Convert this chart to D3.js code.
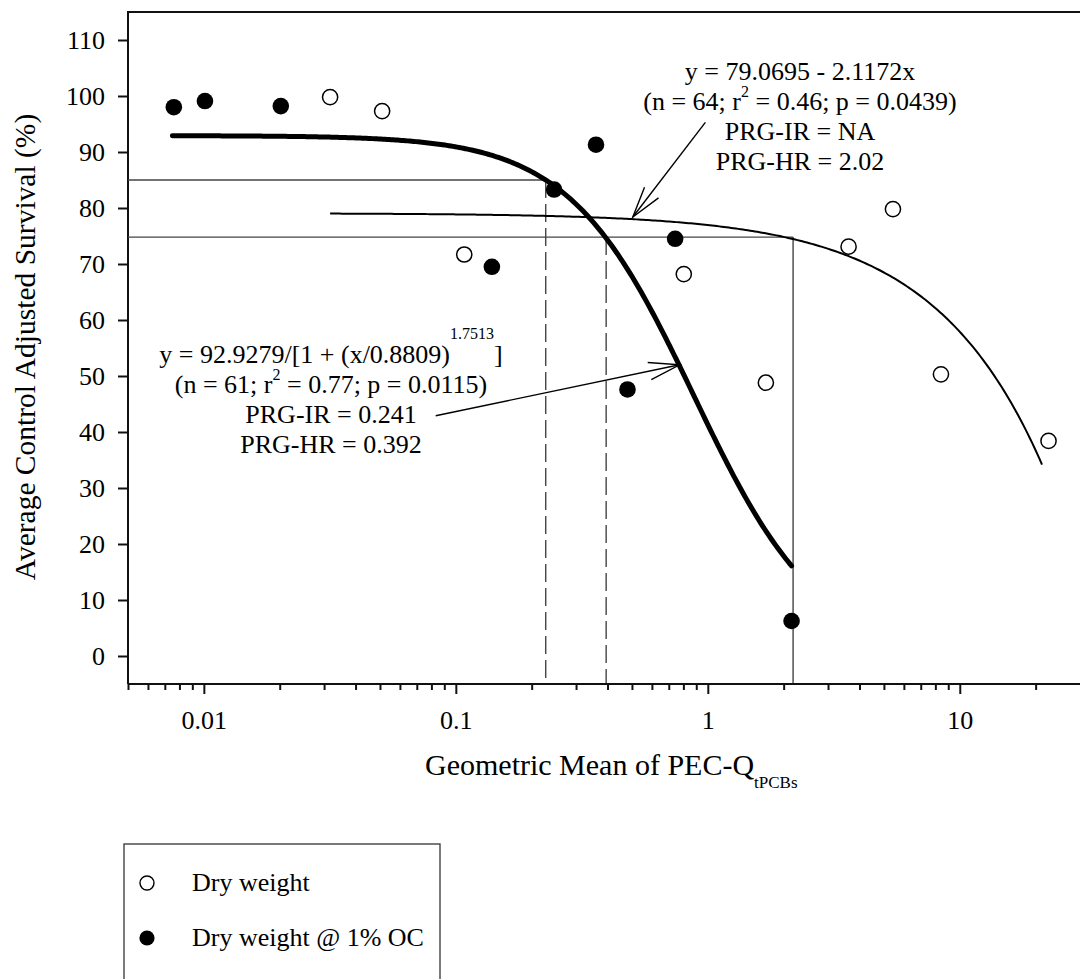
<!DOCTYPE html>
<html><head><meta charset="utf-8">
<script src="https://cdn.jsdelivr.net/npm/d3@7"></script>
<style>
body{margin:0;background:#fff}
svg text{font-family:"Liberation Serif",serif;fill:#000}
</style>
</head><body>
<svg id="c" width="1081" height="979"></svg>
<script>
// ---- data ----
const dryX = [0.0317, 0.0510, 0.108, 0.803, 1.70, 3.62, 5.43, 8.42, 22.5];
const dryY = [99.8, 97.3, 71.7, 68.2, 48.8, 73.1, 79.8, 50.3, 38.4];
const ocX  = [0.0076, 0.0101, 0.0202, 0.139, 0.2455, 0.360, 0.480, 0.742, 2.15];
const ocY  = [98.0, 99.1, 98.2, 69.5, 83.3, 91.3, 47.6, 74.5, 6.25];
const xMajorTicks = [0.01, 0.1, 1, 10];
const xTickLabels = ["0.01", "0.1", "1", "10"];
const xMinorTicks = [0.005,0.006,0.007,0.008,0.009,0.02,0.03,0.04,0.05,0.06,0.07,0.08,0.09,
                     0.2,0.3,0.4,0.5,0.6,0.7,0.8,0.9,2,3,4,5,6,7,8,9,20];
const yTicks = [0,10,20,30,40,50,60,70,80,90,100,110];
// fitted models (from the chart's own equations)
const logistic = {a: 92.9279, x0: 0.8809, b: 1.7513, xmin: 0.0075, xmax: 2.15};
const linear   = {a: 79.0695, b: 2.1172, xmin: 0.0317, xmax: 21.2};
// reference (PRG) lines
const irLevel = 85,   irX = 0.2274;
const hrLevel = 74.8, hrXthick = 0.395, hrXthin = 2.18;
// annotation arrows [start, tip] in data units
const arrowLin = [[0.978, 95.3], [0.504, 78.4]];
const arrowLog = [[0.0832, 42.9], [0.773, 52.0]];

// ---- scales ----
const FONT = '"Liberation Serif", serif';
const svg = d3.select("#c");
const L = 128, R = 1080, T = 12, B = 684;
const x = d3.scaleLog().domain([0.005, 30]).range([L, R]);
const y = d3.scaleLinear().domain([-5, 115]).range([B, T]);

// frame
svg.append("path").attr("d", `M${L},${B}V${T}H${R}`).attr("fill","none")
   .attr("stroke","#111").attr("stroke-width",2);

// reference lines
const refG = svg.append("g").attr("stroke","#444").attr("stroke-width",1.4).attr("fill","none");
refG.append("line").attr("x1",x(0.005)).attr("x2",x(irX)).attr("y1",y(irLevel)).attr("y2",y(irLevel));
refG.append("line").attr("x1",x(irX)).attr("x2",x(irX)).attr("y1",y(irLevel)).attr("y2",y(-5)).attr("stroke-dasharray","18,6");
refG.append("line").attr("x1",x(0.005)).attr("x2",x(hrXthin)).attr("y1",y(hrLevel)).attr("y2",y(hrLevel));
refG.append("line").attr("x1",x(hrXthick)).attr("x2",x(hrXthick)).attr("y1",y(hrLevel)).attr("y2",y(-5)).attr("stroke-dasharray","18,6");
refG.append("line").attr("x1",x(hrXthin)).attr("x2",x(hrXthin)).attr("y1",y(hrLevel)).attr("y2",y(-5));

// curves
const line = d3.line().x(d=>x(d[0])).y(d=>y(d[1]));
function sample(f, a, b, n){ const out=[]; for(let i=0;i<=n;i++){ const v=Math.exp(Math.log(a)+(Math.log(b)-Math.log(a))*i/n); out.push([v,f(v)]);} return out; }
svg.append("path").attr("d", line(sample(v=>linear.a-linear.b*v, linear.xmin, linear.xmax, 300)))
   .attr("fill","none").attr("stroke","#000").attr("stroke-width",2);
svg.append("path").attr("d", line(sample(v=>logistic.a/(1+Math.pow(v/logistic.x0, logistic.b)), logistic.xmin, logistic.xmax, 300)))
   .attr("fill","none").attr("stroke","#000").attr("stroke-width",5).attr("stroke-linecap","round");

// points
svg.append("g").selectAll("circle").data(dryX.map((v,i)=>[v,dryY[i]])).join("circle")
   .attr("cx",d=>x(d[0])).attr("cy",d=>y(d[1])).attr("r",7.6)
   .attr("fill","#fff").attr("stroke","#000").attr("stroke-width",1.5);
svg.append("g").selectAll("circle").data(ocX.map((v,i)=>[v,ocY[i]])).join("circle")
   .attr("cx",d=>x(d[0])).attr("cy",d=>y(d[1])).attr("r",8.3).attr("fill","#000");

// arrows
function arrow(a){
  const sx=x(a[0][0]), sy=y(a[0][1]), tx=x(a[1][0]), ty=y(a[1][1]);
  const ang=Math.atan2(sy-ty, sx-tx), len=32, h=16*Math.PI/180;
  const g=svg.append("g").attr("stroke","#000").attr("stroke-width",1.4).attr("fill","none");
  g.append("line").attr("x1",sx).attr("y1",sy).attr("x2",tx).attr("y2",ty);
  g.append("path").attr("d",`M${tx+len*Math.cos(ang-h)},${ty+len*Math.sin(ang-h)}L${tx},${ty}L${tx+len*Math.cos(ang+h)},${ty+len*Math.sin(ang+h)}`);
}
arrow(arrowLin); arrow(arrowLog);

// axes
const fs = 26;
const yAx = svg.append("g").attr("transform",`translate(${L},0)`)
   .call(d3.axisLeft(y).tickValues(yTicks).tickSize(10).tickPadding(13).tickSizeOuter(0));
yAx.select(".domain").remove();
yAx.selectAll("line").attr("stroke","#111").attr("stroke-width",2);
yAx.selectAll("text").attr("font-size",fs).attr("fill","#000");

const xAx = svg.append("g").attr("transform",`translate(0,${B})`)
   .call(d3.axisBottom(x).tickValues(xMajorTicks).tickSize(10).tickPadding(17)
         .tickFormat((d,i)=>xTickLabels[i]).tickSizeOuter(0));
xAx.select(".domain").remove();
xAx.selectAll("line").attr("stroke","#111").attr("stroke-width",2);
xAx.selectAll("text").attr("font-size",fs).attr("fill","#000");
const xMin = svg.append("g").attr("transform",`translate(0,${B})`)
   .call(d3.axisBottom(x).tickValues(xMinorTicks).tickSize(6).tickFormat("").tickSizeOuter(0));
xMin.select(".domain").remove();
xMin.selectAll("line").attr("stroke","#111").attr("stroke-width",2);
svg.append("line").attr("x1",L).attr("x2",R).attr("y1",B).attr("y2",B).attr("stroke","#111").attr("stroke-width",2);

// axis titles
svg.append("text").attr("transform","translate(35,347) rotate(-90)").attr("text-anchor","middle")
   .attr("font-size",29.5).text("Average Control Adjusted Survival (%)");
const xt = svg.append("text").attr("x",425).attr("y",775).attr("text-anchor","start").attr("font-size",30);
xt.append("tspan").text("Geometric Mean of PEC-Q");
xt.append("tspan").attr("font-size",17).attr("dy",13).text("tPCBs");

// annotations
function block(cx, y0, lines){
  lines.forEach((parts,i)=>{
    const t = svg.append("text").attr("x",cx).attr("y",y0+i*30).attr("text-anchor","middle").attr("font-size",fs);
    parts.forEach(p=>{
      if (typeof p === "string") t.append("tspan").text(p);
      else { const s=t.append("tspan").attr("font-size",p.fs).attr("dy",p.dy).text(p.t);
             if (p.back) t.append("tspan").attr("dy",-p.dy).text(p.back); }
    });
  });
}
block(800, 80, [
  ["y = 79.0695 - 2.1172x"],
  ["(n = 64; r", {t:"2", fs:16, dy:-13, back:" = 0.46; p = 0.0439)"}],
  ["PRG-IR = NA"],
  ["PRG-HR = 2.02"]
]);
block(331, 363, [
  ["y = 92.9279/[1 + (x/0.8809)", {t:"1.7513", fs:16, dy:-24, back:"]"}],
  ["(n = 61; r", {t:"2", fs:16, dy:-13, back:" = 0.77; p = 0.0115)"}],
  ["PRG-IR = 0.241"],
  ["PRG-HR = 0.392"]
]);

// legend
const lg = svg.append("g");
lg.append("rect").attr("x",124).attr("y",844).attr("width",316).attr("height",200)
  .attr("fill","#fff").attr("stroke","#333").attr("stroke-width",1.3);
lg.append("circle").attr("cx",147).attr("cy",883).attr("r",7).attr("fill","#fff").attr("stroke","#000").attr("stroke-width",1.4);
lg.append("circle").attr("cx",147).attr("cy",938).attr("r",7.6).attr("fill","#000");
lg.append("text").attr("x",192).attr("y",891).attr("font-size",fs).text("Dry weight");
lg.append("text").attr("x",192).attr("y",946).attr("font-size",fs).text("Dry weight @ 1% OC");

svg.selectAll("text").style("font-family", FONT);
svg.selectAll("g").attr("font-family", null);
</script>
</body></html>
